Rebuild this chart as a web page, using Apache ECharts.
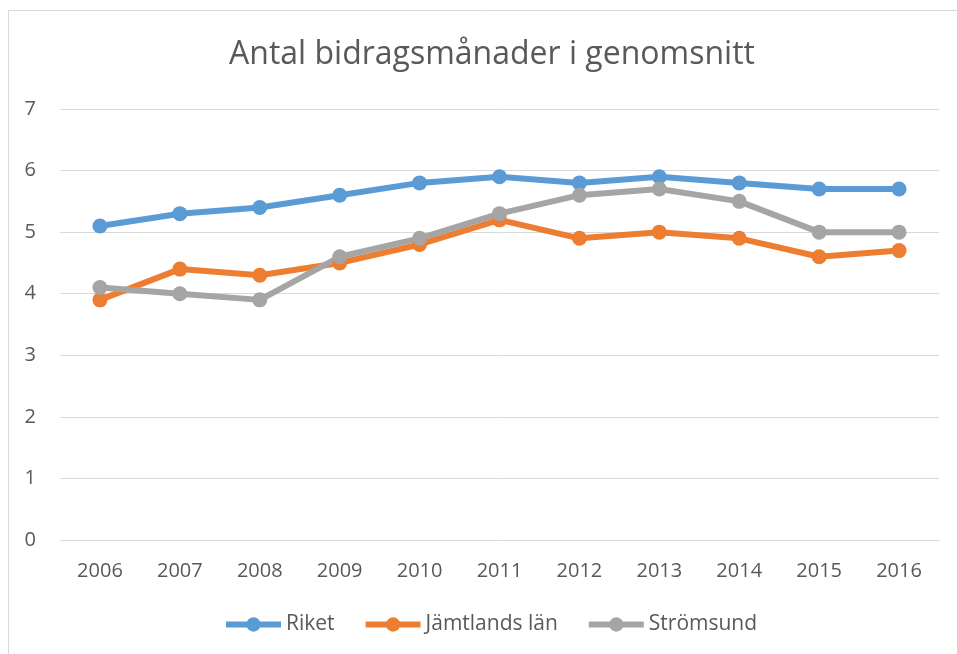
<!DOCTYPE html>
<html>
<head>
<meta charset="utf-8">
<script src="https://cdn.jsdelivr.net/npm/echarts@6/dist/echarts.min.js"></script>
<style>
  html, body { margin: 0; padding: 0; background: #fff; }
  #chart { width: 957px; height: 654px; }
</style>
</head>
<body>
<div id="chart"></div>
<script>
var years = ['2006', '2007', '2008', '2009', '2010', '2011', '2012', '2013', '2014', '2015', '2016'];
var riket = [5.1, 5.3, 5.4, 5.6, 5.8, 5.9, 5.8, 5.9, 5.8, 5.7, 5.7];
var jamtland = [3.9, 4.4, 4.3, 4.5, 4.8, 5.2, 4.9, 5.0, 4.9, 4.6, 4.7];
var stromsund = [4.1, 4.0, 3.9, 4.6, 4.9, 5.3, 5.6, 5.7, 5.5, 5.0, 5.0];

var font = '"Open Sans", "Noto Sans", sans-serif';

function lineSeries(name, data, color) {
    return {
        name: name,
        type: 'line',
        data: data,
        symbol: 'circle',
        symbolSize: 15,
        lineStyle: { width: 6, color: color },
        itemStyle: { color: color },
        emphasis: { disabled: true }
    };
}

var myChart = echarts.init(document.getElementById('chart'));
myChart.setOption({
    animation: false,
    color: ['#5b9bd5', '#ed7d31', '#a5a5a5'],
    graphic: [{
        type: 'rect',
        shape: { x: 8.5, y: 10.5, width: 1000, height: 1000 },
        style: { fill: 'none', stroke: '#d9d9d9', lineWidth: 1 },
        silent: true
    }],
    title: {
        text: 'Antal bidragsmånader i genomsnitt',
        left: 487,
        textAlign: 'center',
        top: 34,
        textStyle: { color: '#595959', fontSize: 32, fontWeight: 'normal', fontFamily: font }
    },
    legend: {
        top: 609,
        left: 218,
        itemWidth: 55,
        itemHeight: 18,
        itemGap: 28,
        lineStyle: { width: 6 },
        textStyle: { color: '#595959', fontSize: 21, fontFamily: font }
    },
    grid: { left: 60, right: 18, top: 109, bottom: 114 },
    xAxis: {
        type: 'category',
        data: years,
        boundaryGap: true,
        axisLine: { lineStyle: { color: '#d9d9d9', width: 1 } },
        axisTick: { show: false },
        axisLabel: { color: '#595959', fontSize: 20, fontFamily: font, margin: 21 }
    },
    yAxis: {
        type: 'value',
        min: 0,
        max: 7,
        interval: 1,
        axisLine: { show: false },
        axisTick: { show: false },
        splitLine: { lineStyle: { color: '#d9d9d9', width: 1 } },
        axisLabel: { color: '#595959', fontSize: 20, fontFamily: font, margin: 24 }
    },
    series: [
        lineSeries('Riket', riket, '#5b9bd5'),
        lineSeries('Jämtlands län', jamtland, '#ed7d31'),
        lineSeries('Strömsund', stromsund, '#a5a5a5')
    ]
});
</script>
</body>
</html>
